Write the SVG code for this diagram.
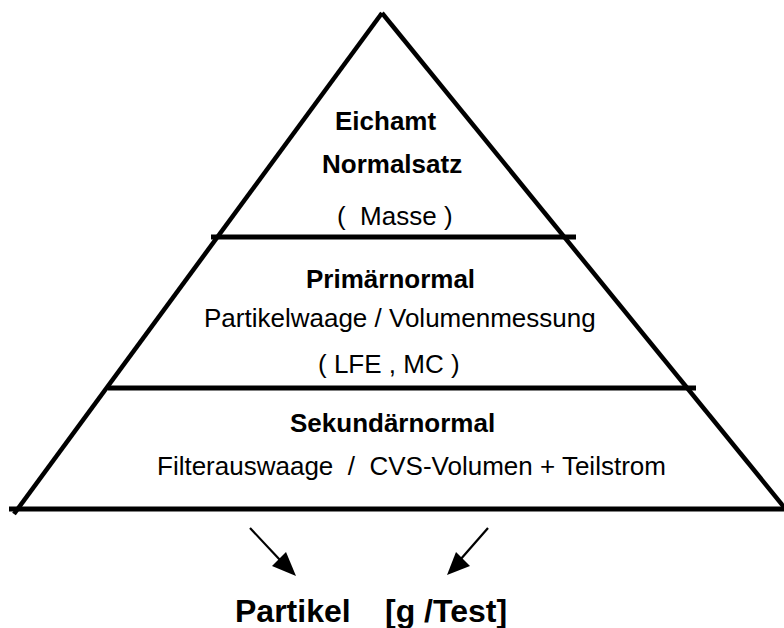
<svg xmlns="http://www.w3.org/2000/svg" width="784" height="628" viewBox="0 0 784 628">
<style>
  .side { stroke:#000; stroke-width:4.5; fill:none; stroke-linecap:butt; }
  .bar { stroke:#000; stroke-width:5; fill:none; }
  .t { font-family:"Liberation Sans", Arial, sans-serif; font-size:26px; fill:#000; }
  .b { font-weight:bold; }
  .big { font-family:"Liberation Sans", Arial, sans-serif; font-size:32px; font-weight:bold; fill:#000; }
  .arr { stroke:#000; stroke-width:2.2; fill:none; }
</style>
<defs>
  <marker id="ah" markerWidth="10" markerHeight="10" refX="9" refY="5" orient="auto" markerUnits="userSpaceOnUse" viewBox="0 0 10 10">
    <path d="M0,0 L10,5 L0,10 z" fill="#000"/>
  </marker>
</defs>
<rect width="784" height="628" fill="#fff"/>
<g id="pyramid">
  <line class="side" x1="382" y1="13" x2="14" y2="514"/>
  <line class="side" x1="382" y1="13" x2="784" y2="507"/>
</g>
<g id="tier-eichamt">
  <line class="bar" x1="211" y1="237" x2="576" y2="237"/>
  <text class="t b" x="335" y="130">Eichamt</text>
  <text class="t b" x="322" y="173">Normalsatz</text>
  <text class="t" x="337" y="225" xml:space="preserve">(  Masse )</text>
</g>
<g id="tier-primaer">
  <line class="bar" x1="108" y1="388" x2="696" y2="388"/>
  <text class="t b" x="306" y="288">Primärnormal</text>
  <text class="t" x="204" y="327">Partikelwaage / Volumenmessung</text>
  <text class="t" x="318" y="373">( LFE , MC )</text>
</g>
<g id="tier-sekundaer">
  <line class="bar" x1="9" y1="509" x2="784" y2="509"/>
  <text class="t b" x="290" y="432">Sekundärnormal</text>
  <text class="t" x="157" y="475" xml:space="preserve">Filterauswaage  /  CVS-Volumen + Teilstrom</text>
</g>
<g id="result">
  <text class="big" x="235" y="622">Partikel<tspan x="385">[g /Test]</tspan></text>
</g>
<g id="connectors">
  <line class="arr" x1="250" y1="528" x2="280" y2="560"/>
  <path d="M296,576 L272,566 L286,552 z" fill="#000"/>
  <line class="arr" x1="488" y1="528" x2="460" y2="560"/>
  <path d="M447,575 L456,552 L470,566 z" fill="#000"/>
</g>
</svg>
